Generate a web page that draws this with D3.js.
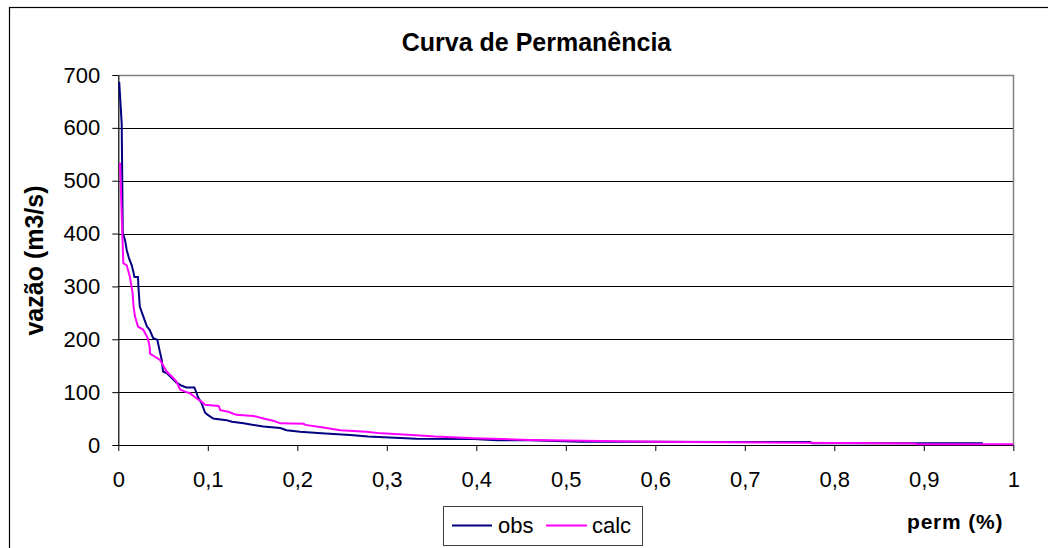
<!DOCTYPE html>
<html>
<head>
<meta charset="utf-8">
<script src="https://cdn.jsdelivr.net/npm/d3@7"></script>
<style>
  html, body { margin: 0; padding: 0; background: #fff; }
  svg { display: block; font-family: "Liberation Sans", Arial, sans-serif; }
</style>
</head>
<body>
<svg id="chart" width="1048" height="548"></svg>
<script>
// ---- data ----
const title = "Curva de Permanência";
const yLabel = "vazão (m3/s)";
const xLabel = "perm (%)";
const seriesNames = ["obs", "calc"];
const xTicks = [0, 0.1, 0.2, 0.3, 0.4, 0.5, 0.6, 0.7, 0.8, 0.9, 1];
const yTicks = [0, 100, 200, 300, 400, 500, 600, 700];

const obsPerm = [0.001, 0.0038, 0.005, 0.0075, 0.0094, 0.012, 0.015, 0.0168, 0.018, 0.022, 0.0225, 0.024, 0.028, 0.032, 0.035, 0.039, 0.0436, 0.046, 0.0485, 0.05, 0.054, 0.06, 0.065, 0.071, 0.076, 0.085, 0.089, 0.093, 0.097, 0.1, 0.106, 0.121, 0.127, 0.14, 0.151, 0.162, 0.181, 0.188, 0.203, 0.227, 0.259, 0.279, 0.333, 0.397, 0.423, 0.459, 0.518, 0.601, 0.676, 0.773, 0.775, 0.966];
const obsVazao = [687, 608, 401, 388, 369, 353, 340, 328, 318, 318, 299, 262, 243, 224, 218, 202, 199, 180, 161, 139, 136, 126, 118, 112, 109, 109, 91, 79, 61, 57, 50, 47, 44, 41, 38, 35, 32, 28, 25, 22, 19, 16, 12, 11.5, 9, 9, 6, 6, 5.5, 5.5, 3.5, 3.5];

const calcPerm = [0.0019, 0.005, 0.0056, 0.0094, 0.013, 0.016, 0.017, 0.0187, 0.022, 0.028, 0.033, 0.035, 0.0354, 0.041, 0.0466, 0.05, 0.054, 0.06, 0.065, 0.069, 0.0745, 0.08, 0.0876, 0.093, 0.097, 0.112, 0.114, 0.123, 0.132, 0.151, 0.162, 0.173, 0.181, 0.207, 0.209, 0.229, 0.248, 0.277, 0.294, 0.328, 0.354, 0.397, 0.46, 0.601, 0.676, 0.89, 0.892, 1.0];
const calcVazao = [534, 375, 344, 340, 318, 287, 262, 243, 224, 218, 202, 186, 173, 167, 161, 151, 139, 129, 120, 105, 101, 98, 88, 82, 76, 74, 66, 63, 57, 55, 50, 46, 41, 40, 38, 33, 28, 25, 22, 19, 16, 13, 9.5, 6.3, 5, 3, 1.3, 1.3];

const colors = ["#000080", "#FF00FF"];

// ---- drawing ----
const svg = d3.select("#chart");
const plot = { left: 118.3, right: 1013.3, top: 75, bottom: 445 };

const x = d3.scaleLinear().domain([0, 1]).range([plot.left, plot.right]);
const y = d3.scaleLinear().domain([0, 700]).range([plot.bottom, plot.top]);
const fmt = d => String(d).replace(".", ",");

// outer frame
svg.append("rect").attr("x", 9.5).attr("y", 7.5).attr("width", 1060).attr("height", 560)
  .attr("fill", "#fff").attr("stroke", "#000").attr("stroke-width", 1.2);

// gridlines
svg.append("g").selectAll("line").data(yTicks.filter(v => v > 0 && v < 700)).join("line")
  .attr("x1", plot.left).attr("x2", plot.right)
  .attr("y1", d => Math.round(y(d)) + 0.5).attr("y2", d => Math.round(y(d)) + 0.5)
  .attr("stroke", "#000").attr("stroke-width", 1);

// plot area border (top & right, gray)
svg.append("path")
  .attr("d", `M${plot.left},${y(700) + 0.5}H${Math.round(plot.right) + 0.5}V${plot.bottom}`)
  .attr("fill", "none").attr("stroke", "#808080").attr("stroke-width", 1.5);

// axes
const yAxis = svg.append("g").attr("transform", `translate(${plot.left},0)`)
  .call(d3.axisLeft(y).tickValues(yTicks).tickSize(6).tickPadding(12).tickSizeOuter(0).tickFormat(fmt));
const xAxis = svg.append("g").attr("transform", `translate(0,${plot.bottom})`)
  .call(d3.axisBottom(x).tickValues(xTicks).tickSize(6).tickPadding(20).tickSizeOuter(0).tickFormat(fmt));
[yAxis, xAxis].forEach(a => {
  a.selectAll("text").attr("font-size", 22).attr("font-family", "Liberation Sans, Arial, sans-serif").attr("fill", "#000");
  a.selectAll("line").attr("stroke", "#000");
  a.select(".domain").attr("stroke", "#000").attr("stroke-width", 1.2);
});

// lines
const line = d3.line().x(d => x(d[0])).y(d => y(d[1]));
const obsData = obsPerm.map((p, i) => [p, obsVazao[i]]);
const calcData = calcPerm.map((p, i) => [p, calcVazao[i]]);
[obsData, calcData].forEach((data, i) => {
  svg.append("path").datum(data).attr("d", line)
    .attr("fill", "none").attr("stroke", colors[i]).attr("stroke-width", 2)
    .attr("stroke-linejoin", "miter");
});

// title
svg.append("text").attr("x", 536.5).attr("y", 51).attr("text-anchor", "middle")
  .attr("font-size", 25).attr("font-weight", "bold").text(title);

// y label
svg.append("text").attr("transform", "translate(43,260.5) rotate(-90)").attr("text-anchor", "middle")
  .attr("font-size", 25).attr("font-weight", "bold").text(yLabel);

// x label
svg.append("text").attr("x", 907).attr("y", 529).attr("text-anchor", "start")
  .attr("font-size", 21).attr("font-weight", "bold").attr("letter-spacing", 0.8).text(xLabel);

// legend
const lg = svg.append("g");
lg.append("rect").attr("x", 443.5).attr("y", 506.5).attr("width", 199).attr("height", 39)
  .attr("fill", "#fff").attr("stroke", "#404040").attr("stroke-width", 1);
const legendItems = [
  { name: seriesNames[0], color: colors[0], x1: 452, x2: 492, tx: 498 },
  { name: seriesNames[1], color: colors[1], x1: 546, x2: 587, tx: 592 }
];
legendItems.forEach(it => {
  lg.append("line").attr("x1", it.x1).attr("x2", it.x2).attr("y1", 525.5).attr("y2", 525.5)
    .attr("stroke", it.color).attr("stroke-width", 2);
  lg.append("text").attr("x", it.tx).attr("y", 533).attr("font-size", 22).text(it.name);
});
</script>
</body>
</html>
